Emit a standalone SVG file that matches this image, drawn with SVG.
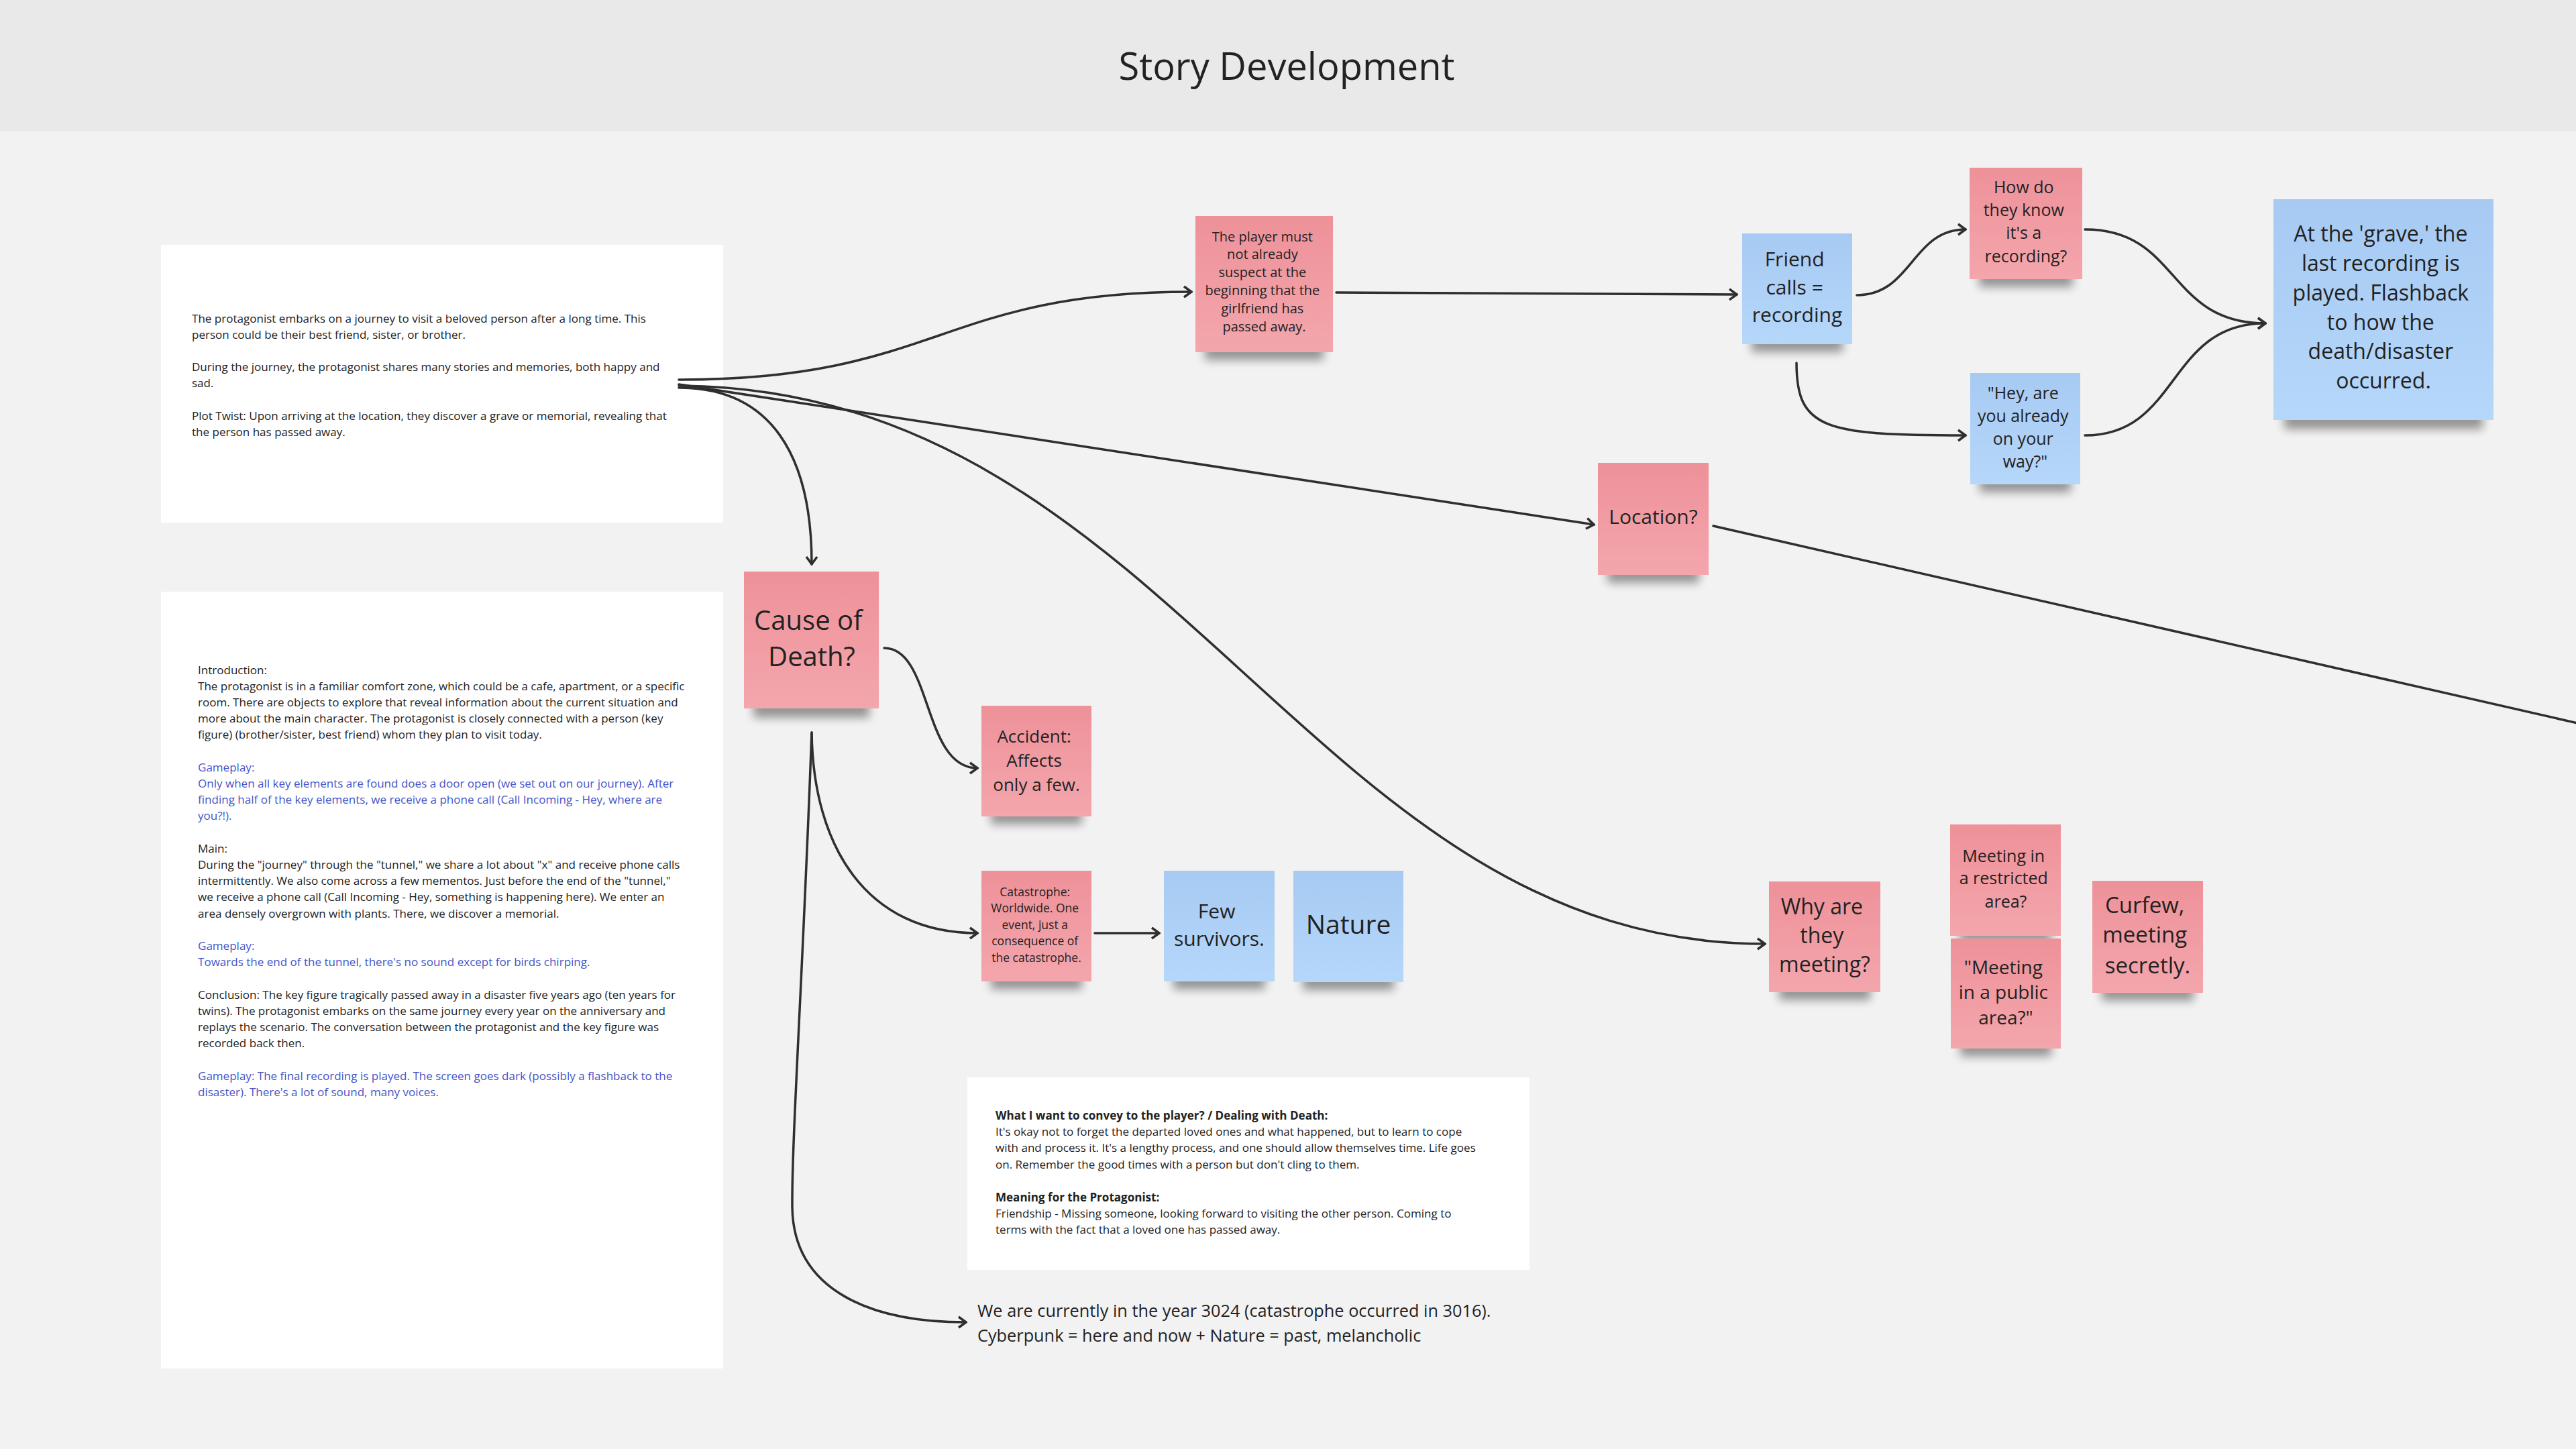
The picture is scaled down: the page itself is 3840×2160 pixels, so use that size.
<svg xmlns="http://www.w3.org/2000/svg" width="3840" height="2160" viewBox="0 0 3840 2160">
<defs>
<style>
.bg{fill:#f2f2f2}
.hdr{fill:#e9e9e9}
.box{fill:#ffffff}
.t{font-family:"Open Sans","Liberation Sans",sans-serif;fill:#222222}
.small{font-size:17.05px}
.blue{fill:#4354c8}
.b{font-weight:bold}
.c{text-anchor:middle}
.pk{fill:url(#gpk)}
.bl{fill:url(#gbl)}
.sh{fill:#000;opacity:.38;filter:url(#blur)}
.con{fill:none;stroke:#2f2f2f;stroke-width:3.5;stroke-linecap:round}
.arr{marker-end:url(#ah)}
</style>
<linearGradient id="gpk" x1="0" y1="0" x2="0" y2="1"><stop offset="0" stop-color="#ee9199"/><stop offset="1" stop-color="#f4a6ad"/></linearGradient>
<linearGradient id="gbl" x1="0" y1="0" x2="0" y2="1"><stop offset="0" stop-color="#a7caf3"/><stop offset="1" stop-color="#b5d7fa"/></linearGradient>
<filter id="blur" x="-30%" y="-100%" width="160%" height="300%"><feGaussianBlur stdDeviation="7"/></filter>
<marker id="ah" markerUnits="userSpaceOnUse" viewBox="-2 -11 15 22" refX="11" refY="0" markerWidth="15" markerHeight="22" orient="auto"><path d="M0,-8 L11,0 L0,8" fill="none" stroke="#2f2f2f" stroke-width="3.5" stroke-linejoin="miter"/></marker>
</defs>

<rect class="bg" x="0" y="0" width="3840" height="2160"/>
<rect class="hdr" x="0" y="0" width="3840" height="196"/>
<text class="t c" x="1918" y="119" font-size="56">Story Development</text>

<g id="textbox-summary">
<rect class="box" x="240" y="365" width="838" height="414"/>
<text class="t small">
<tspan x="286" y="480.5">The protagonist embarks on a journey to visit a beloved person after a long time. This</tspan>
<tspan x="286" y="504.7">person could be their best friend, sister, or brother.</tspan>
<tspan x="286" y="553.1">During the journey, the protagonist shares many stories and memories, both happy and</tspan>
<tspan x="286" y="577.3">sad.</tspan>
<tspan x="286" y="625.7">Plot Twist: Upon arriving at the location, they discover a grave or memorial, revealing that</tspan>
<tspan x="286" y="649.9">the person has passed away.</tspan>
</text>
</g>

<g id="textbox-structure">
<rect class="box" x="240" y="882" width="838" height="1158"/>
<text class="t small">
<tspan x="295" y="1004.5">Introduction:</tspan>
<tspan x="295" y="1028.7">The protagonist is in a familiar comfort zone, which could be a cafe, apartment, or a specific</tspan>
<tspan x="295" y="1052.9">room. There are objects to explore that reveal information about the current situation and</tspan>
<tspan x="295" y="1077.1">more about the main character. The protagonist is closely connected with a person (key</tspan>
<tspan x="295" y="1101.3">figure) (brother/sister, best friend) whom they plan to visit today.</tspan>
<tspan class="blue" x="295" y="1149.7">Gameplay:</tspan>
<tspan class="blue" x="295" y="1173.9">Only when all key elements are found does a door open (we set out on our journey). After</tspan>
<tspan class="blue" x="295" y="1198.1">finding half of the key elements, we receive a phone call (Call Incoming - Hey, where are</tspan>
<tspan class="blue" x="295" y="1222.3">you?!).</tspan>
<tspan x="295" y="1270.7">Main:</tspan>
<tspan x="295" y="1294.9">During the "journey" through the "tunnel," we share a lot about "x" and receive phone calls</tspan>
<tspan x="295" y="1319.1">intermittently. We also come across a few mementos. Just before the end of the "tunnel,"</tspan>
<tspan x="295" y="1343.3">we receive a phone call (Call Incoming - Hey, something is happening here). We enter an</tspan>
<tspan x="295" y="1367.5">area densely overgrown with plants. There, we discover a memorial.</tspan>
<tspan class="blue" x="295" y="1415.9">Gameplay:</tspan>
<tspan class="blue" x="295" y="1440.1">Towards the end of the tunnel, there's no sound except for birds chirping.</tspan>
<tspan x="295" y="1488.5">Conclusion: The key figure tragically passed away in a disaster five years ago (ten years for</tspan>
<tspan x="295" y="1512.7">twins). The protagonist embarks on the same journey every year on the anniversary and</tspan>
<tspan x="295" y="1536.9">replays the scenario. The conversation between the protagonist and the key figure was</tspan>
<tspan x="295" y="1561.1">recorded back then.</tspan>
<tspan class="blue" x="295" y="1609.5">Gameplay: The final recording is played. The screen goes dark (possibly a flashback to the</tspan>
<tspan class="blue" x="295" y="1633.7">disaster). There's a lot of sound, many voices.</tspan>
</text>
</g>

<g id="textbox-convey">
<rect class="box" x="1442" y="1606" width="838" height="287"/>
<text class="t small">
<tspan class="b" x="1484" y="1668.5">What I want to convey to the player? / Dealing with Death:</tspan>
<tspan x="1484" y="1692.9">It's okay not to forget the departed loved ones and what happened, but to learn to cope</tspan>
<tspan x="1484" y="1717.3">with and process it. It's a lengthy process, and one should allow themselves time. Life goes</tspan>
<tspan x="1484" y="1741.7">on. Remember the good times with a person but don't cling to them.</tspan>
<tspan class="b" x="1484" y="1790.5">Meaning for the Protagonist:</tspan>
<tspan x="1484" y="1814.9">Friendship - Missing someone, looking forward to visiting the other person. Coming to</tspan>
<tspan x="1484" y="1839.3">terms with the fact that a loved one has passed away.</tspan>
</text>
</g>

<g id="text-year">
<text class="t" font-size="25.3">
<tspan x="1457" y="1963">We are currently in the year 3024 (catastrophe occurred in 3016).</tspan>
<tspan x="1457" y="2000">Cyberpunk = here and now + Nature = past, melancholic</tspan>
</text>
</g>

<g id="connectors">
<path class="con arr" d="M1012,566 C1400,566 1400,435 1776,435"/>
<path class="con arr" d="M1012,578 C1150,578 1210,680 1210,841"/>
<path class="con arr" d="M1012,573 L2376,782"/>
<path class="con arr" d="M1012,575 C1750,580 1950,1407 2631,1407"/>
<path class="con arr" d="M1992,436 L2589,439"/>
<path class="con arr" d="M2768,440 C2850,440 2850,342 2930,342"/>
<path class="con arr" d="M2678,541 C2678,640 2720,649 2930,649"/>
<path class="con arr" d="M3108,342 C3250,342 3230,482 3377,482"/>
<path class="con arr" d="M3108,649 C3250,649 3230,482 3377,482"/>
<path class="con" d="M2554,784 L3860,1082"/>
<path class="con arr" d="M1318,966 C1390,966 1375,1145 1457,1145"/>
<path class="con arr" d="M1210,1092 C1212,1260 1290,1391 1457,1391"/>
<path class="con arr" d="M1632,1391 L1728,1391"/>
<path class="con arr" d="M1210,1092 C1197,1450 1180,1700 1181,1800 C1183,1925 1300,1971 1440,1971"/>
</g>

<g id="note-player">
<rect class="sh" x="1796" y="511" width="177" height="26"/>
<rect class="pk" x="1782" y="322" width="205" height="203"/>
<text class="t c" font-size="20">
<tspan x="1884.5" y="359.6">The player must</tspan>
<tspan x="1884.5" y="386.4">not already</tspan>
<tspan x="1884.5" y="413.2">suspect at the</tspan>
<tspan x="1884.5" y="440">beginning that the</tspan>
<tspan x="1884.5" y="466.8">girlfriend has</tspan>
<tspan x="1884.5" y="493.6">passed away.</tspan>
</text>
</g>

<g id="note-friend-calls">
<rect class="sh" x="2611" y="499" width="136" height="26"/>
<rect class="bl" x="2597" y="348" width="164" height="165"/>
<text class="t c" font-size="30">
<tspan x="2679" y="397">Friend</tspan>
<tspan x="2679" y="438.5">calls =</tspan>
<tspan x="2679" y="480">recording</tspan>
</text>
</g>

<g id="note-how-know">
<rect class="sh" x="2950" y="402" width="140" height="26"/>
<rect class="pk" x="2936" y="250" width="168" height="166"/>
<text class="t c" font-size="25">
<tspan x="3020" y="288">How do</tspan>
<tspan x="3020" y="322">they know</tspan>
<tspan x="3020" y="356">it's a</tspan>
<tspan x="3020" y="391">recording?</tspan>
</text>
</g>

<g id="note-hey">
<rect class="sh" x="2951" y="708" width="136" height="26"/>
<rect class="bl" x="2937" y="556" width="164" height="166"/>
<text class="t c" font-size="25">
<tspan x="3019" y="594.5">"Hey, are</tspan>
<tspan x="3019" y="629">you already</tspan>
<tspan x="3019" y="663">on your</tspan>
<tspan x="3019" y="697">way?"</tspan>
</text>
</g>

<g id="note-grave">
<rect class="sh" x="3405" y="610" width="296" height="30"/>
<rect class="bl" x="3389" y="297" width="328" height="329"/>
<text class="t c" font-size="32">
<tspan x="3553" y="359.5">At the 'grave,' the</tspan>
<tspan x="3553" y="403.5">last recording is</tspan>
<tspan x="3553" y="447.5">played. Flashback</tspan>
<tspan x="3553" y="491.5">to how the</tspan>
<tspan x="3553" y="535">death/disaster</tspan>
<tspan x="3553" y="578.5">occurred.</tspan>
</text>
</g>

<g id="note-location">
<rect class="sh" x="2396" y="843" width="137" height="26"/>
<rect class="pk" x="2382" y="690" width="165" height="167"/>
<text class="t c" font-size="30" x="2464.5" y="781">Location?</text>
</g>

<g id="note-cause">
<rect class="sh" x="1123" y="1042" width="173" height="28"/>
<rect class="pk" x="1109" y="852" width="201" height="204"/>
<text class="t c" font-size="40">
<tspan x="1210" y="939">Cause of</tspan>
<tspan x="1210" y="993">Death?</tspan>
</text>
</g>

<g id="note-accident">
<rect class="sh" x="1477" y="1203" width="136" height="26"/>
<rect class="pk" x="1463" y="1052" width="164" height="165"/>
<text class="t c" font-size="26">
<tspan x="1545" y="1106.6">Accident:</tspan>
<tspan x="1545" y="1142.6">Affects</tspan>
<tspan x="1545" y="1179">only a few.</tspan>
</text>
</g>

<g id="note-catastrophe">
<rect class="sh" x="1477" y="1449" width="136" height="26"/>
<rect class="pk" x="1463" y="1298" width="164" height="165"/>
<text class="t c" font-size="17.5">
<tspan x="1545" y="1335.6">Catastrophe:</tspan>
<tspan x="1545" y="1360">Worldwide. One</tspan>
<tspan x="1545" y="1384.7">event, just a</tspan>
<tspan x="1545" y="1409">consequence of</tspan>
<tspan x="1545" y="1433.7">the catastrophe.</tspan>
</text>
</g>

<g id="note-few-survivors">
<rect class="sh" x="1749" y="1449" width="137" height="26"/>
<rect class="bl" x="1735" y="1298" width="165" height="165"/>
<text class="t c" font-size="30">
<tspan x="1817.5" y="1369">Few</tspan>
<tspan x="1817.5" y="1410">survivors.</tspan>
</text>
</g>

<g id="note-nature">
<rect class="sh" x="1942" y="1450" width="136" height="26"/>
<rect class="bl" x="1928" y="1298" width="164" height="166"/>
<text class="t c" font-size="39" x="2010" y="1392">Nature</text>
</g>

<g id="note-why-meeting">
<rect class="sh" x="2652" y="1465" width="136" height="26"/>
<rect class="pk" x="2637" y="1314" width="166" height="165"/>
<text class="t c" font-size="32">
<tspan x="2720" y="1362.5">Why are</tspan>
<tspan x="2720" y="1405.5">they</tspan>
<tspan x="2720" y="1448.5">meeting?</tspan>
</text>
</g>

<g id="note-restricted">
<rect class="sh" x="2921" y="1381" width="137" height="24"/>
<rect class="pk" x="2907" y="1229" width="165" height="166"/>
<text class="t c" font-size="25">
<tspan x="2990" y="1285">Meeting in</tspan>
<tspan x="2990" y="1318">a restricted</tspan>
<tspan x="2990" y="1353">area?</tspan>
</text>
</g>

<g id="note-public">
<rect class="sh" x="2922" y="1549" width="136" height="26"/>
<rect class="pk" x="2908" y="1399" width="164" height="164"/>
<text class="t c" font-size="28">
<tspan x="2990" y="1451.5">"Meeting</tspan>
<tspan x="2990" y="1489">in a public</tspan>
<tspan x="2990" y="1527">area?"</tspan>
</text>
</g>

<g id="note-curfew">
<rect class="sh" x="3133" y="1466" width="137" height="26"/>
<rect class="pk" x="3119" y="1313" width="165" height="167"/>
<text class="t c" font-size="33">
<tspan x="3201.5" y="1361">Curfew,</tspan>
<tspan x="3201.5" y="1405">meeting</tspan>
<tspan x="3201.5" y="1451">secretly.</tspan>
</text>
</g>
</svg>
